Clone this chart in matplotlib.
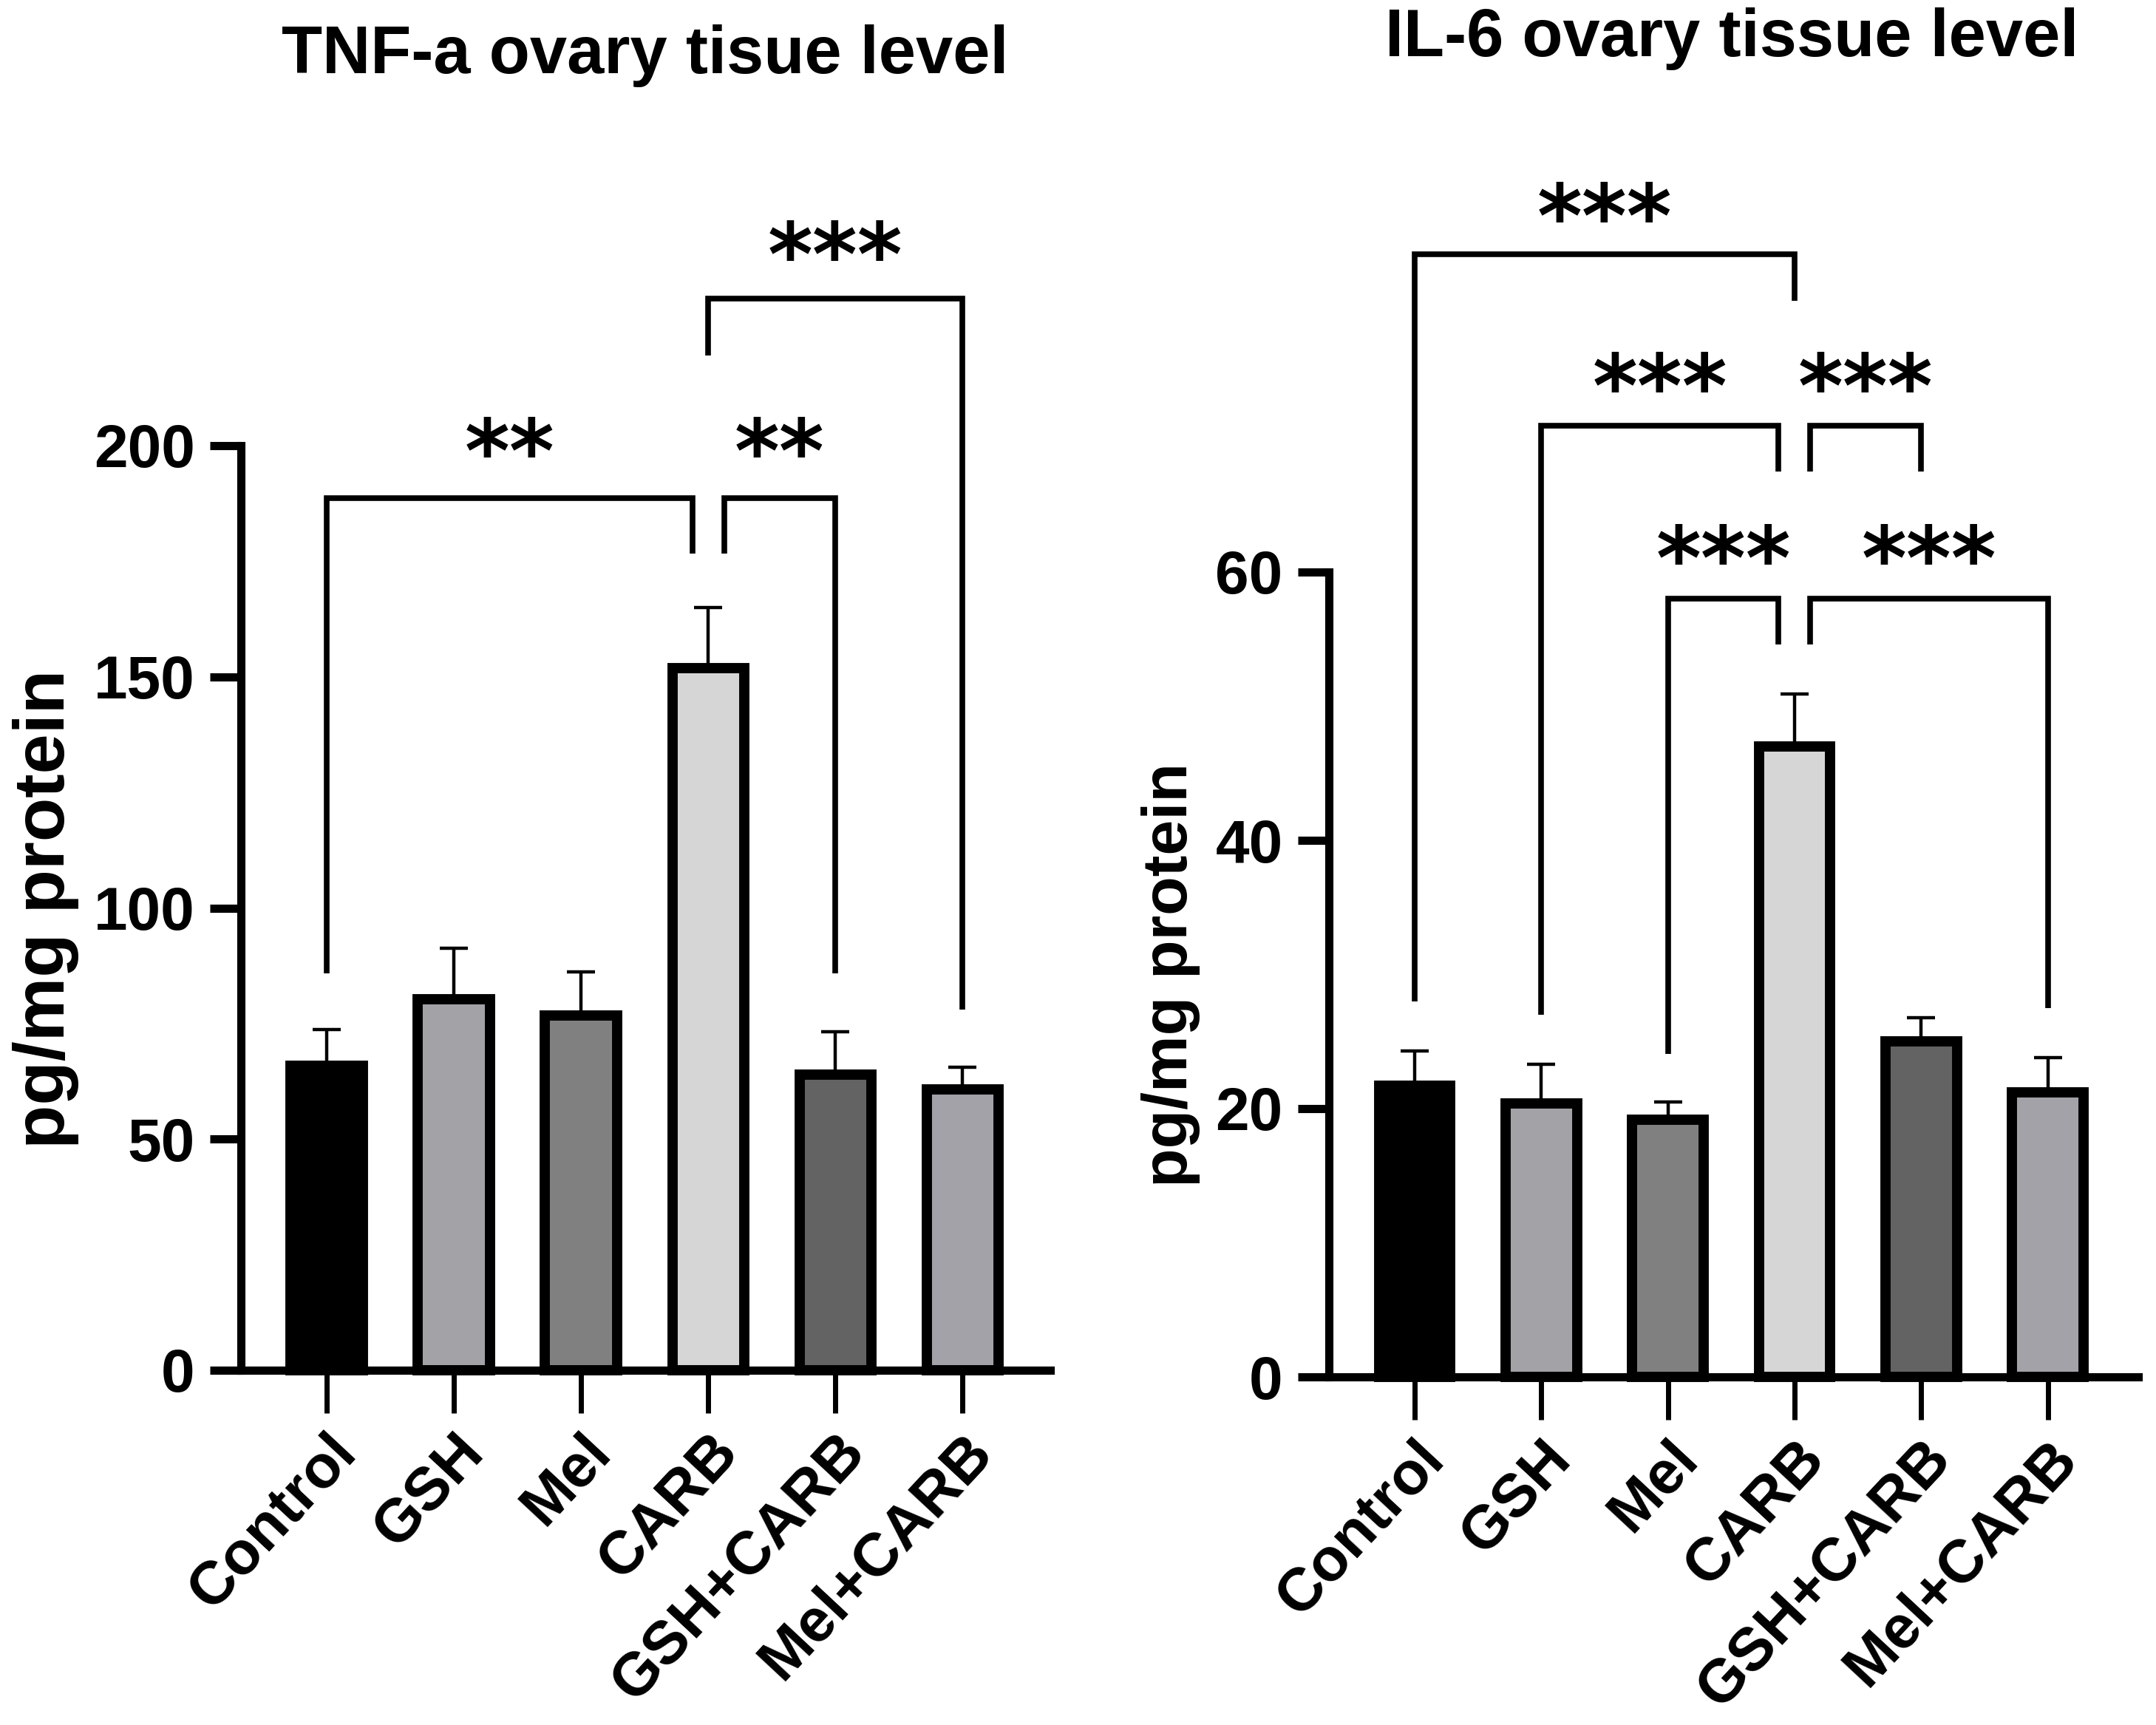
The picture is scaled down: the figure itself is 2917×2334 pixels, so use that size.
import matplotlib
matplotlib.use('Agg')
import matplotlib.pyplot as plt

plt.rcParams['font.family'] = ['Liberation Sans', 'DejaVu Sans']
plt.rcParams['font.weight'] = 'bold'

groups = ['Control', 'GSH', 'Mel', 'CARB', 'GSH+CARB', 'Mel+CARB']
bar_colors = ['#000000', '#a3a2a6', '#808080', '#d6d6d6', '#636363', '#a3a2a8']

tnf_mean = [65.8, 80.3, 76.8, 151.8, 64.0, 60.7]
tnf_err = [7.9, 11.0, 9.4, 13.2, 9.3, 4.9]
tnf_yticks = [0, 50, 100, 150, 200]

il6_mean = [21.7, 20.4, 19.2, 47.0, 25.0, 21.2]
il6_err = [2.6, 2.9, 1.3, 3.9, 1.8, 2.6]
il6_yticks = [0, 20, 40, 60]

# brackets: (group a, group b, bracket height, leg bottom a, leg bottom b, label, label height, side)
tnf_brackets = [
    (0, 3, 188.6, 85.9, 176.7, '**', 201.9, 'L'),
    (3, 4, 188.6, 176.7, 85.9, '**', 201.9, 'R'),
    (3, 5, 231.8, 219.5, 78.0, '***', 244.4, ''),
]
il6_brackets = [
    (0, 3, 83.7, 28.0, 80.2, '***', 87.6, ''),
    (1, 3, 70.9, 27.0, 67.5, '***', 74.9, 'L'),
    (3, 4, 70.9, 67.5, 67.5, '***', 74.9, 'R'),
    (2, 3, 58.0, 24.1, 54.6, '***', 62.1, 'L'),
    (3, 5, 58.0, 54.6, 27.5, '***', 62.1, 'R'),
]

W, H = 2917, 2334
fig = plt.figure(figsize=(W / 100, H / 100), dpi=100)

STAR_FS = 84
OFF = 0.125


def panel(rect, xlim, mean, err, yticks, brackets, ylabel, ylfs, ylpos, title, tpos):
    ax = fig.add_axes(rect)
    x = list(range(len(groups)))
    ax.errorbar(x, mean, yerr=[[0] * len(err), err], fmt='none', ecolor='black',
                elinewidth=3.2, capsize=14, capthick=3.2, zorder=2, clip_on=False)
    ax.bar(x, mean, width=0.565, color=bar_colors, edgecolor='black',
           linewidth=10, zorder=3, clip_on=False)
    ax.set_xlim(*xlim)
    ax.set_ylim(yticks[0], yticks[-1])
    ax.set_yticks(yticks)
    ax.set_xticks(x)
    ax.set_xticklabels(groups, rotation=47, ha='right', va='top',
                       rotation_mode='anchor', fontsize=59, fontweight='bold')
    for lab in ax.get_yticklabels():
        lab.set_fontsize(59)
        lab.set_fontweight('bold')
    for s in ['top', 'right']:
        ax.spines[s].set_visible(False)
    for s in ['left', 'bottom']:
        ax.spines[s].set_linewidth(8)
    ax.tick_params(axis='y', direction='out', length=30, width=8, pad=15)
    ax.tick_params(axis='x', direction='out', length=42, width=5, pad=10)

    for (a, b, yb, ya0, yb0, lab, ly, side) in brackets:
        xa = a + OFF if a == 3 and side == 'R' else a
        xb = b - OFF if b == 3 and side == 'L' else b
        ax.plot([xa, xa, xb, xb], [ya0, yb, yb, yb0], color='black', lw=5.5,
                solid_joinstyle='miter', solid_capstyle='butt', clip_on=False, zorder=4)
        ax.annotate(lab, xy=((xa + xb) / 2, ly), xytext=(0, -0.52 * STAR_FS),
                    textcoords='offset points', ha='center', va='baseline',
                    fontsize=STAR_FS, fontweight='bold', family='DejaVu Sans',
                    annotation_clip=False)

    fig.text(ylpos[0], ylpos[1], ylabel, rotation=90, ha='center', va='center',
             fontsize=ylfs, fontweight='bold')
    fig.text(tpos[0], tpos[1], title, ha='center', va='baseline', fontsize=65,
             fontweight='bold')
    return ax


panel([326 / W, 1 - 1854 / H, (1421 - 326) / W, (1854 - 603) / H], (-0.674, 5.69),
      tnf_mean, tnf_err, tnf_yticks, tnf_brackets, 'pg/mg protein', 70,
      (62 / W, 1 - 1230 / H), 'TNF-a ovary tisue level', (873 / W, 1 - 99 / H))

panel([1798 / W, 1 - 1863 / H, (2893 - 1798) / W, (1863 - 774) / H], (-0.677, 5.715),
      il6_mean, il6_err, il6_yticks, il6_brackets, 'pg/mg protein', 62,
      (1584 / W, 1 - 1319 / H), 'IL-6 ovary tissue level', (2343 / W, 1 - 76 / H))

fig.savefig('out.png', dpi=100, facecolor='white')
